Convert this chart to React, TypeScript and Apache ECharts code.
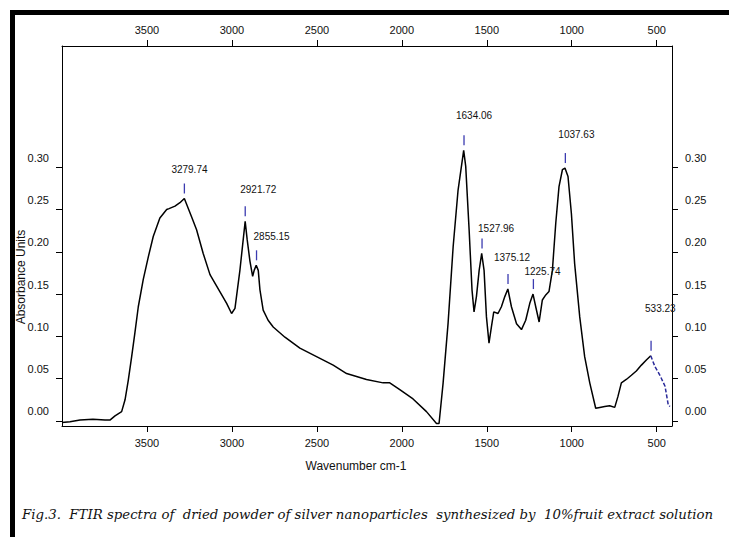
import React, { useEffect, useRef } from "react";
import * as echarts from "echarts";

// Spectrum (wavenumber cm-1, absorbance units)
const wavenumbers = [
  4000, 3953, 3894, 3818, 3747, 3718, 3688, 3649, 3629, 3610, 3590, 3571, 3551, 3522, 3492, 3463,
  3424, 3384, 3370, 3335, 3306, 3280, 3237, 3208, 3169, 3129, 3071, 3031, 3002, 2982, 2953, 2922,
  2910, 2894, 2878, 2869, 2857, 2845, 2835, 2816, 2787, 2757, 2688, 2600, 2502, 2404, 2325, 2208,
  2110, 2071, 2012, 1934, 1855, 1796, 1781, 1757, 1728, 1698, 1669, 1636, 1624, 1604, 1587, 1575,
  1561, 1545, 1530, 1516, 1502, 1487, 1473, 1459, 1434, 1414, 1394, 1376, 1355, 1325, 1296, 1271,
  1247, 1228, 1212, 1192, 1173, 1153, 1134, 1114, 1094, 1075, 1055, 1040, 1022, 1002, 983, 953,
  924, 894, 859, 835, 806, 777, 747, 728, 708, 679, 649, 620, 590, 561, 535,
];
const absorbance = [
  -0.002, -0.001, 0.001, 0.002, 0.001, 0.001, 0.006, 0.011, 0.025, 0.048, 0.076, 0.104, 0.135, 0.167, 0.194, 0.218,
  0.240, 0.250, 0.251, 0.254, 0.258, 0.263, 0.241, 0.226, 0.198, 0.173, 0.153, 0.139, 0.127, 0.133, 0.178, 0.236,
  0.214, 0.189, 0.171, 0.178, 0.184, 0.178, 0.155, 0.131, 0.119, 0.111, 0.099, 0.086, 0.076, 0.066, 0.056, 0.049,
  0.045, 0.045, 0.037, 0.026, 0.011, -0.003, -0.003, 0.045, 0.115, 0.206, 0.273, 0.320, 0.301, 0.226, 0.155, 0.129,
  0.147, 0.178, 0.198, 0.178, 0.123, 0.092, 0.111, 0.129, 0.127, 0.135, 0.147, 0.156, 0.135, 0.115, 0.108, 0.119,
  0.139, 0.150, 0.135, 0.117, 0.143, 0.149, 0.153, 0.178, 0.234, 0.277, 0.297, 0.299, 0.289, 0.245, 0.186, 0.123,
  0.076, 0.045, 0.015, 0.016, 0.017, 0.018, 0.016, 0.029, 0.045, 0.049, 0.054, 0.059, 0.066, 0.072, 0.077,
];
// Low-wavenumber tail (drawn in blue)
const tailWavenumbers = [535, 510, 481, 451, 432, 422];
const tailAbsorbance = [0.077, 0.064, 0.054, 0.041, 0.019, 0.017];

// Picked peaks
const peakWavenumbers = [3279.74, 2921.72, 2855.15, 1634.06, 1527.96, 1375.12, 1225.74, 1037.63, 533.23];
const peakAbsorbance = [0.263, 0.236, 0.184, 0.32, 0.198, 0.156, 0.15, 0.299, 0.077];
const peakLabels = ["3279.74", "2921.72", "2855.15", "1634.06", "1527.96", "1375.12", "1225.74", "1037.63", "533.23"];
// label placement relative to peak marker (layout only)
const peakLabelDx = [-13, -5, -3, -8, -4, -14, -9, -7, -6];
const peakLabelLift = [14, 17, 14, 20, 10, 16, 8, 19, 32];

const xTicks = [3500, 3000, 2500, 2000, 1500, 1000, 500];
const yTicks = [0, 0.05, 0.1, 0.15, 0.2, 0.25, 0.3];

const AXIS_FONT = "'Liberation Sans Narrow', 'Liberation Sans', Arial, sans-serif";
const PEAK_FONT = "'Liberation Sans', Arial, sans-serif";

export default function App() {
  const ref = useRef<HTMLDivElement>(null);

  useEffect(() => {
    if (!ref.current) return;
    const chart = echarts.init(ref.current, undefined, { renderer: "svg" });

    const mainData = wavenumbers.map((w, i) => [w, absorbance[i]]);
    const tailData = tailWavenumbers.map((w, i) => [w, tailAbsorbance[i]]);
    const peakData = peakWavenumbers.map((w, i) => [w, peakAbsorbance[i]]);

    const xAxisBase = (position: "top" | "bottom") => ({
      type: "value",
      position,
      min: 410,
      max: 4000,
      inverse: true,
      axisLine: { show: true, onZero: false, lineStyle: { color: "#000", width: 1 } },
      axisTick: { show: true, length: 6, customValues: xTicks, lineStyle: { color: "#000", width: 1 } },
      axisLabel: {
        customValues: xTicks,
        formatter: (v: number) => String(v),
        margin: 11,
        color: "#111",
        fontSize: 11,
        fontFamily: AXIS_FONT,
      },
      splitLine: { show: false },
    });

    const yAxisBase = (position: "left" | "right") => ({
      type: "value",
      position,
      min: -0.006,
      max: 0.4433,
      axisLine: { show: true, onZero: false, lineStyle: { color: "#000", width: 1 } },
      axisTick: { show: true, length: 6, customValues: yTicks, lineStyle: { color: "#000", width: 1 } },
      axisLabel: {
        customValues: yTicks,
        formatter: (v: number) => v.toFixed(2),
        margin: 13,
        color: "#111",
        fontSize: 11,
        fontFamily: AXIS_FONT,
        verticalAlign: "bottom",
        padding: [0, 0, 4, 0],
      },
      splitLine: { show: false },
    });

    chart.setOption({
      animation: false,
      backgroundColor: "#fff",
      grid: {
        left: 62,
        top: 46,
        width: 610,
        height: 380,
        containLabel: false,
        outerBoundsMode: "none",
      },
      xAxis: [xAxisBase("bottom"), xAxisBase("top")],
      yAxis: [yAxisBase("left"), yAxisBase("right")],
      series: [
        {
          type: "line",
          data: mainData,
          showSymbol: false,
          lineStyle: { color: "#000", width: 1.5 },
          z: 3,
        },
        {
          type: "line",
          data: tailData,
          showSymbol: false,
          lineStyle: { color: "#2a2a9a", width: 1.5, type: [4, 2] },
          z: 3,
        },
        {
          type: "custom",
          data: peakData,
          clip: false,
          z: 4,
          encode: { x: 0, y: 1 },
          renderItem: (params: any, api: any) => {
            const i = params.dataIndex;
            const pt = api.coord([api.value(0), api.value(1)]);
            const x = pt[0];
            const y = pt[1];
            const top = y - 15;
            return {
              type: "group",
              children: [
                {
                  type: "line",
                  shape: { x1: x, y1: y - 5, x2: x, y2: top },
                  style: { stroke: "#3b3bb0", lineWidth: 1.3 },
                },
                {
                  type: "text",
                  style: {
                    text: peakLabels[i],
                    x: x + peakLabelDx[i],
                    y: top - peakLabelLift[i],
                    align: "left",
                    verticalAlign: "middle",
                    fill: "#111",
                    fontSize: 10,
                    fontFamily: PEAK_FONT,
                  },
                },
              ],
            };
          },
        },
      ],
      graphic: [
        { type: "rect", shape: { x: 10, y: 10, width: 719, height: 5 }, style: { fill: "#000" } },
        { type: "rect", shape: { x: 10, y: 10, width: 5, height: 527 }, style: { fill: "#000" } },
        {
          type: "text",
          x: 21,
          y: 277,
          rotation: Math.PI / 2,
          style: {
            text: "Absorbance Units",
            align: "center",
            verticalAlign: "middle",
            fill: "#111",
            fontSize: 12,
            fontFamily: AXIS_FONT,
          },
        },
        {
          type: "text",
          x: 356,
          y: 466,
          style: {
            text: "Wavenumber cm-1",
            align: "center",
            verticalAlign: "middle",
            fill: "#111",
            fontSize: 12,
            fontFamily: AXIS_FONT,
          },
        },
        {
          type: "text",
          x: 22,
          y: 514,
          style: {
            text: "Fig.3.  FTIR spectra of  dried powder of silver nanoparticles  synthesized by  10%fruit extract solution",
            align: "left",
            verticalAlign: "middle",
            fill: "#111",
            fontSize: 13.3,
            fontStyle: "italic",
            fontFamily: "'DejaVu Serif', 'Liberation Serif', serif",
          },
        },
      ],
    });

    return () => chart.dispose();
  }, []);

  return (
    <div
      ref={ref}
      style={{ position: "fixed", left: 0, top: 0, width: 729, height: 537, background: "#fff" }}
    />
  );
}
